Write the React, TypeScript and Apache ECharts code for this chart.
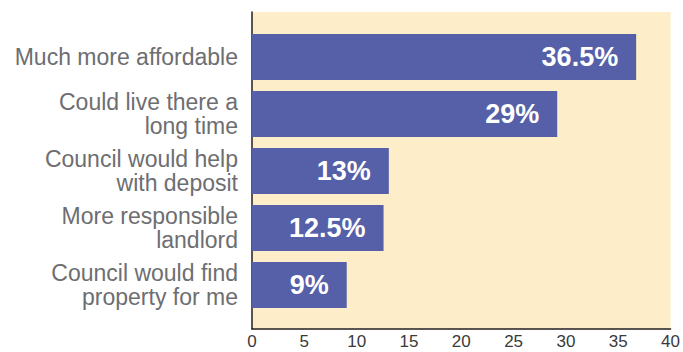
import React, { useEffect, useRef } from "react";
import * as echarts from "echarts";

const categories = [
  "Much more affordable",
  "Could live there a\nlong time",
  "Council would help\nwith deposit",
  "More responsible\nlandlord",
  "Council would find\nproperty for me",
];
const values = [36.5, 29, 13, 12.5, 9];
const xTicks = { min: 0, max: 40, interval: 5 };

export default function App() {
  const ref = useRef<HTMLDivElement>(null);
  useEffect(() => {
    if (!ref.current) return;
    const chart = echarts.init(ref.current, null, { renderer: "svg" });
    const font = "'Liberation Sans', Arial, Helvetica, sans-serif";
    chart.setOption({
      animation: false,
      grid: [
        { left: 252, right: 10, top: 12, bottom: 23, show: true, backgroundColor: "#FDEDC8", borderWidth: 0 },
        { left: 252, right: 10, top: 28.5, bottom: 38.5 },
      ],
      xAxis: [
        {
          gridIndex: 0,
          type: "value",
          min: xTicks.min,
          max: xTicks.max,
          interval: xTicks.interval,
          axisLine: { show: true, lineStyle: { color: "#231f20", width: 1.5 } },
          axisTick: { show: false },
          splitLine: { show: false },
          axisLabel: { color: "#3a3a3a", fontSize: 17, fontFamily: font, margin: 4 },
        },
        {
          gridIndex: 1,
          type: "value",
          min: xTicks.min,
          max: xTicks.max,
          show: false,
        },
      ],
      yAxis: [
        {
          gridIndex: 0,
          type: "value",
          min: 0,
          max: 1,
          axisLine: { show: true, lineStyle: { color: "#231f20", width: 1.5 } },
          axisTick: { show: false },
          axisLabel: { show: false },
          splitLine: { show: false },
        },
        {
          gridIndex: 1,
          type: "category",
          data: categories,
          inverse: true,
          axisLine: { show: false },
          axisTick: { show: false },
          axisLabel: {
            color: "#6d6e71",
            fontSize: 23,
            lineHeight: 24,
            fontFamily: font,
            margin: 14,
            align: "right",
          },
        },
      ],
      series: [
        {
          type: "bar",
          xAxisIndex: 1,
          yAxisIndex: 1,
          data: values,
          barWidth: 46,
          itemStyle: { color: "#5560A8" },
          label: {
            show: true,
            position: "insideRight",
            distance: 18,
            formatter: (p: any) => p.value + "%",
            color: "#fff",
            fontSize: 27,
            fontWeight: "bold",
            fontFamily: font,
          },
        },
      ],
    });
    return () => chart.dispose();
  }, []);
  return <div ref={ref} style={{ width: 683, height: 352, position: "absolute", left: 0, top: 0 }} />;
}
